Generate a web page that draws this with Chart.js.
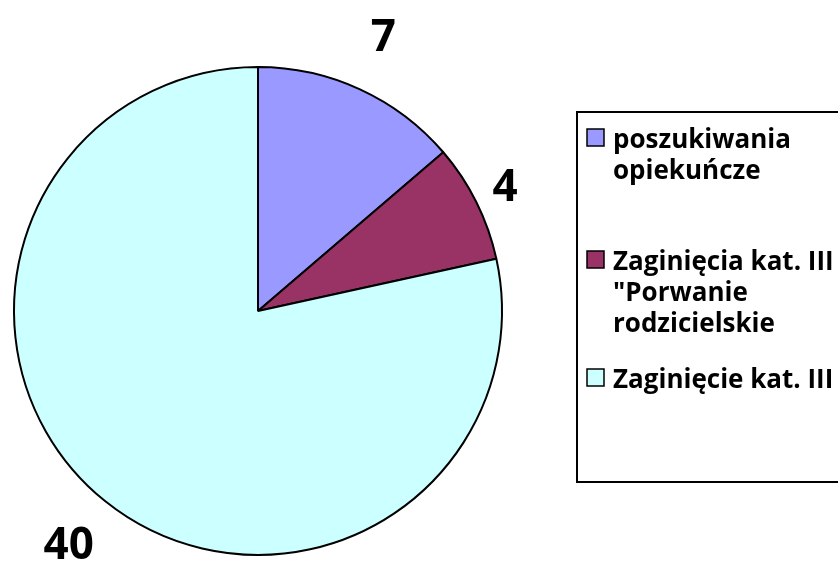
<!DOCTYPE html>
<html>
<head>
<meta charset="utf-8">
<script src="https://cdn.jsdelivr.net/npm/chart.js@4"></script>
<style>
  html, body { margin: 0; padding: 0; background: #fff; }
  #wrap { width: 838px; height: 572px; position: relative; }
</style>
</head>
<body>
<div id="wrap"><canvas id="pie" width="838" height="572"></canvas></div>
<script>
// dane wykresu
const categories = ['poszukiwania opiekuńcze', 'Zaginięcia kat. III "Porwanie rodzicielskie', 'Zaginięcie kat. III'];
const legendLines = [['poszukiwania', 'opiekuńcze'], ['Zaginięcia kat. III', '"Porwanie', 'rodzicielskie'], ['Zaginięcie kat. III']];
const values = [7, 4, 40];
const colors = ['#9999FF', '#993366', '#CCFFFF'];

const FONT = '"Open Sans", sans-serif';

// etykiety wartości poza wycinkami
const labelGap = [56, 32, 58];
const valueLabels = {
  id: 'valueLabels',
  afterDatasetsDraw(chart) {
    const ctx = chart.ctx;
    const meta = chart.getDatasetMeta(0);
    ctx.save();
    ctx.font = 'bold 44px ' + FONT;
    ctx.fillStyle = '#000';
    ctx.textAlign = 'center';
    ctx.textBaseline = 'middle';
    meta.data.forEach((arc, i) => {
      const mid = (arc.startAngle + arc.endAngle) / 2;
      const r = arc.outerRadius + labelGap[i];
      const x = arc.x + Math.cos(mid) * r;
      const y = arc.y + Math.sin(mid) * r;
      ctx.fillText(String(values[i]), x, y);
    });
    ctx.restore();
  }
};

// legenda w ramce, z zawijanymi wierszami
const boxLegend = {
  id: 'boxLegend',
  afterDraw(chart) {
    const ctx = chart.ctx;
    ctx.save();
    ctx.lineWidth = 2;
    ctx.strokeStyle = '#000';
    ctx.strokeRect(577, 112, 300, 370);
    const itemBase = [148, 270, 388];
    ctx.font = 'bold 26px ' + FONT;
    ctx.textBaseline = 'alphabetic';
    legendLines.forEach((lines, i) => {
      const b = itemBase[i];
      ctx.fillStyle = colors[i];
      ctx.fillRect(587, b - 19, 17, 17);
      ctx.lineWidth = 1.5;
      ctx.strokeStyle = '#000';
      ctx.strokeRect(587, b - 19, 17, 17);
      ctx.fillStyle = '#000';
      lines.forEach((t, k) => ctx.fillText(t, 613, b + k * 31));
    });
    ctx.restore();
  }
};

new Chart(document.getElementById('pie'), {
  type: 'pie',
  data: {
    labels: categories,
    datasets: [{
      data: values,
      backgroundColor: colors,
      borderColor: '#000',
      borderWidth: 2
    }]
  },
  options: {
    responsive: false,
    animation: false,
    layout: { padding: { left: 13, right: 335, top: 66, bottom: 16 } },
    plugins: {
      legend: { display: false },
      tooltip: { enabled: false }
    }
  },
  plugins: [valueLabels, boxLegend]
});
</script>
</body>
</html>
